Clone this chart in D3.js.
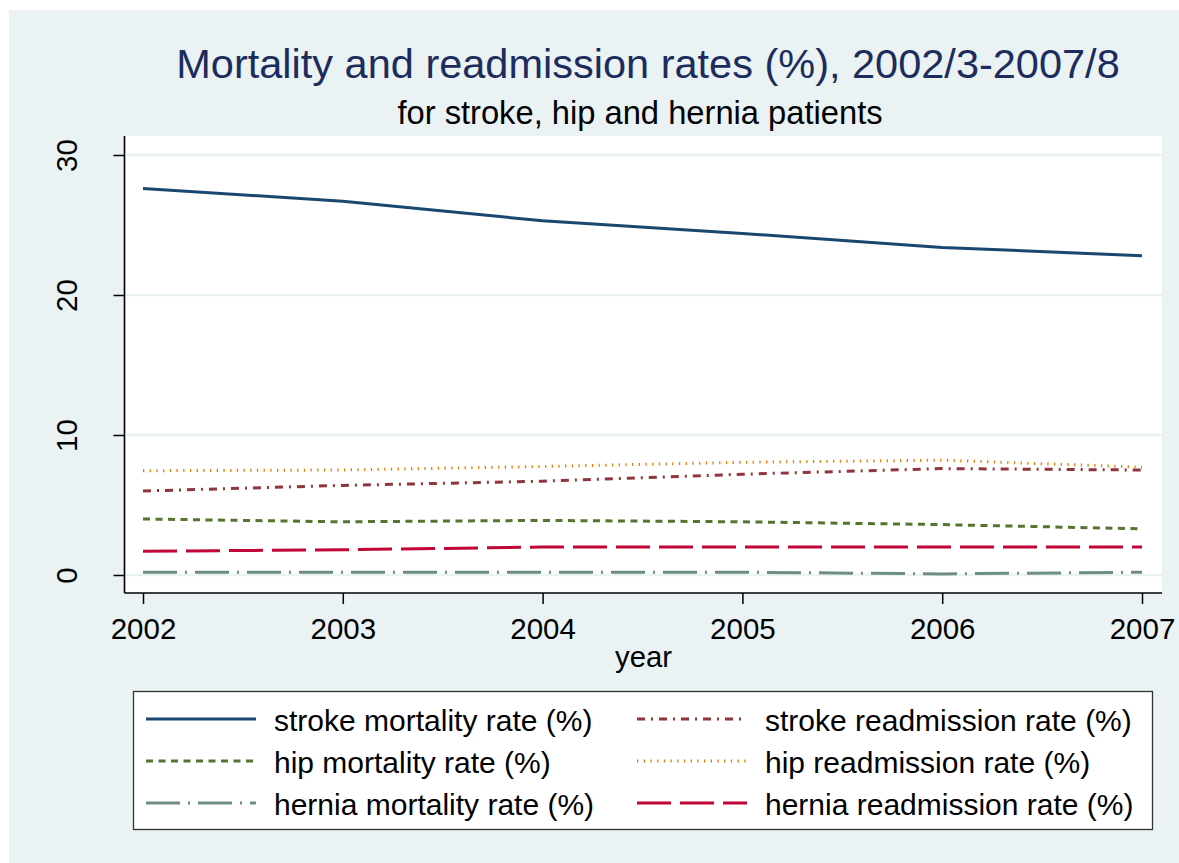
<!DOCTYPE html>
<html>
<head>
<meta charset="utf-8">
<script src="https://cdn.jsdelivr.net/npm/d3@7"></script>
<style>
  body { margin: 0; background: #ffffff; }
  text { font-family: "Liberation Sans", Arial, sans-serif; }
</style>
</head>
<body>
<div id="chart"></div>
<script>
// data
const years = [2002, 2003, 2004, 2005, 2006, 2007];
const strokeMortality   = [27.6, 26.7, 25.3, 24.4, 23.4, 22.8];
const strokeReadmission = [6.0, 6.4, 6.7, 7.2, 7.6, 7.5];
const hipMortality      = [4.0, 3.8, 3.9, 3.8, 3.6, 3.3];
const hipReadmission    = [7.45, 7.5, 7.75, 8.05, 8.2, 7.7];
const herniaMortality   = [0.2, 0.2, 0.2, 0.2, 0.08, 0.2];
const herniaReadmission = [1.7, 1.8, 2.0, 2.0, 2.0, 2.0];
const yTicks = [0, 10, 20, 30];

let width = 1179, height = 863;
let plot = { left: 124.5, right: 1162, top: 136, bottom: 593 };

let series = [
  { name: "stroke mortality rate (%)",   values: strokeMortality,   color: "#1a476f", dash: null,          col: 0, row: 0 },
  { name: "stroke readmission rate (%)", values: strokeReadmission, color: "#90353b", dash: "8,6,2,6",     col: 1, row: 0 },
  { name: "hip mortality rate (%)",      values: hipMortality,      color: "#55752f", dash: "7,5.5",       col: 0, row: 1 },
  { name: "hip readmission rate (%)",    values: hipReadmission,    color: "#e37e00", dash: "1.3,5.4",     col: 1, row: 1 },
  { name: "hernia mortality rate (%)",   values: herniaMortality,   color: "#6e8e84", dash: "34,8,2,8",    col: 0, row: 2 },
  { name: "hernia readmission rate (%)", values: herniaReadmission, color: "#c10534", dash: "34,9",        col: 1, row: 2 }
];

let svg = d3.select("#chart").append("svg")
  .attr("width", width)
  .attr("height", height);

// outer panel
svg.append("rect")
  .attr("x", 9).attr("y", 10)
  .attr("width", width - 9).attr("height", height - 10)
  .attr("fill", "#eaf2f3");

// plot region
svg.append("rect")
  .attr("x", plot.left).attr("y", plot.top)
  .attr("width", plot.right - plot.left).attr("height", plot.bottom - plot.top)
  .attr("fill", "#ffffff");

let x = d3.scaleLinear().domain([2002, 2007]).range([143, 1142]);
let y = d3.scaleLinear().domain([0, 30]).range([575, 155]);

// gridlines
svg.append("g").selectAll("line")
  .data(yTicks)
  .enter().append("line")
  .attr("x1", plot.left).attr("x2", plot.right)
  .attr("y1", d => y(d)).attr("y2", d => y(d))
  .attr("stroke", "#eaf2f3")
  .attr("stroke-width", 2.5);

// y axis
let yAxis = svg.append("g")
  .attr("transform", "translate(" + plot.left + ",0)")
  .call(d3.axisLeft(y).tickValues(yTicks).tickSize(11).tickPadding(0).tickFormat(d3.format("d")));
yAxis.select(".domain").remove();
yAxis.selectAll(".tick line").attr("stroke", "#000").attr("stroke-width", 1.5);
yAxis.selectAll(".tick text")
  .attr("x", 0).attr("y", 0).attr("dy", 0)
  .attr("transform", "translate(-48,0) rotate(-90)")
  .attr("text-anchor", "middle")
  .attr("font-size", 29.5)
  .attr("fill", "#000");
svg.append("line")
  .attr("x1", plot.left).attr("x2", plot.left)
  .attr("y1", plot.top).attr("y2", plot.bottom)
  .attr("stroke", "#000").attr("stroke-width", 1.6);

// x axis
let xAxis = svg.append("g")
  .attr("transform", "translate(0," + plot.bottom + ")")
  .call(d3.axisBottom(x).tickValues(years).tickSize(11).tickPadding(6).tickFormat(d3.format("d")));
xAxis.select(".domain").remove();
xAxis.selectAll(".tick line").attr("stroke", "#000").attr("stroke-width", 1.5);
xAxis.selectAll(".tick text")
  .attr("y", 0).attr("dy", 0)
  .attr("transform", "translate(0,46)")
  .attr("font-size", 29.5)
  .attr("fill", "#000");
svg.append("line")
  .attr("x1", plot.left).attr("x2", plot.right)
  .attr("y1", plot.bottom).attr("y2", plot.bottom)
  .attr("stroke", "#000").attr("stroke-width", 1.6);

svg.append("text")
  .attr("x", 643.5).attr("y", 667)
  .attr("text-anchor", "middle")
  .attr("font-size", 29.3)
  .text("year");

// lines
let line = d3.line()
  .x((d, i) => x(years[i]))
  .y(d => y(d));

svg.append("g").selectAll("path")
  .data(series)
  .enter().append("path")
  .attr("d", d => line(d.values))
  .attr("fill", "none")
  .attr("stroke", d => d.color)
  .attr("stroke-width", 3)
  .attr("stroke-dasharray", d => d.dash);

// titles
svg.append("text")
  .attr("x", 648).attr("y", 78)
  .attr("text-anchor", "middle")
  .attr("font-size", 41.5)
  .attr("fill", "#1c2c5c")
  .text("Mortality and readmission rates (%), 2002/3-2007/8");

svg.append("text")
  .attr("x", 640).attr("y", 124)
  .attr("text-anchor", "middle")
  .attr("font-size", 32.7)
  .attr("fill", "#000")
  .text("for stroke, hip and hernia patients");

// legend
svg.append("rect")
  .attr("x", 133.5).attr("y", 691.5)
  .attr("width", 1019).attr("height", 138)
  .attr("fill", "#ffffff")
  .attr("stroke", "#333")
  .attr("stroke-width", 1.3);

let colX = [146, 637];
let rowY = [719, 761, 803];

let legend = svg.selectAll(".legend")
  .data(series)
  .enter().append("g")
  .attr("class", "legend")
  .attr("transform", d => "translate(" + colX[d.col] + "," + rowY[d.row] + ")");

legend.append("line")
  .attr("x1", 0).attr("x2", 110)
  .attr("y1", 0).attr("y2", 0)
  .attr("stroke", d => d.color)
  .attr("stroke-width", 3)
  .attr("stroke-dasharray", d => d.dash);

legend.append("text")
  .attr("x", 128).attr("y", 12)
  .attr("font-size", 30)
  .attr("fill", "#000")
  .text(d => d.name);
</script>
</body>
</html>
